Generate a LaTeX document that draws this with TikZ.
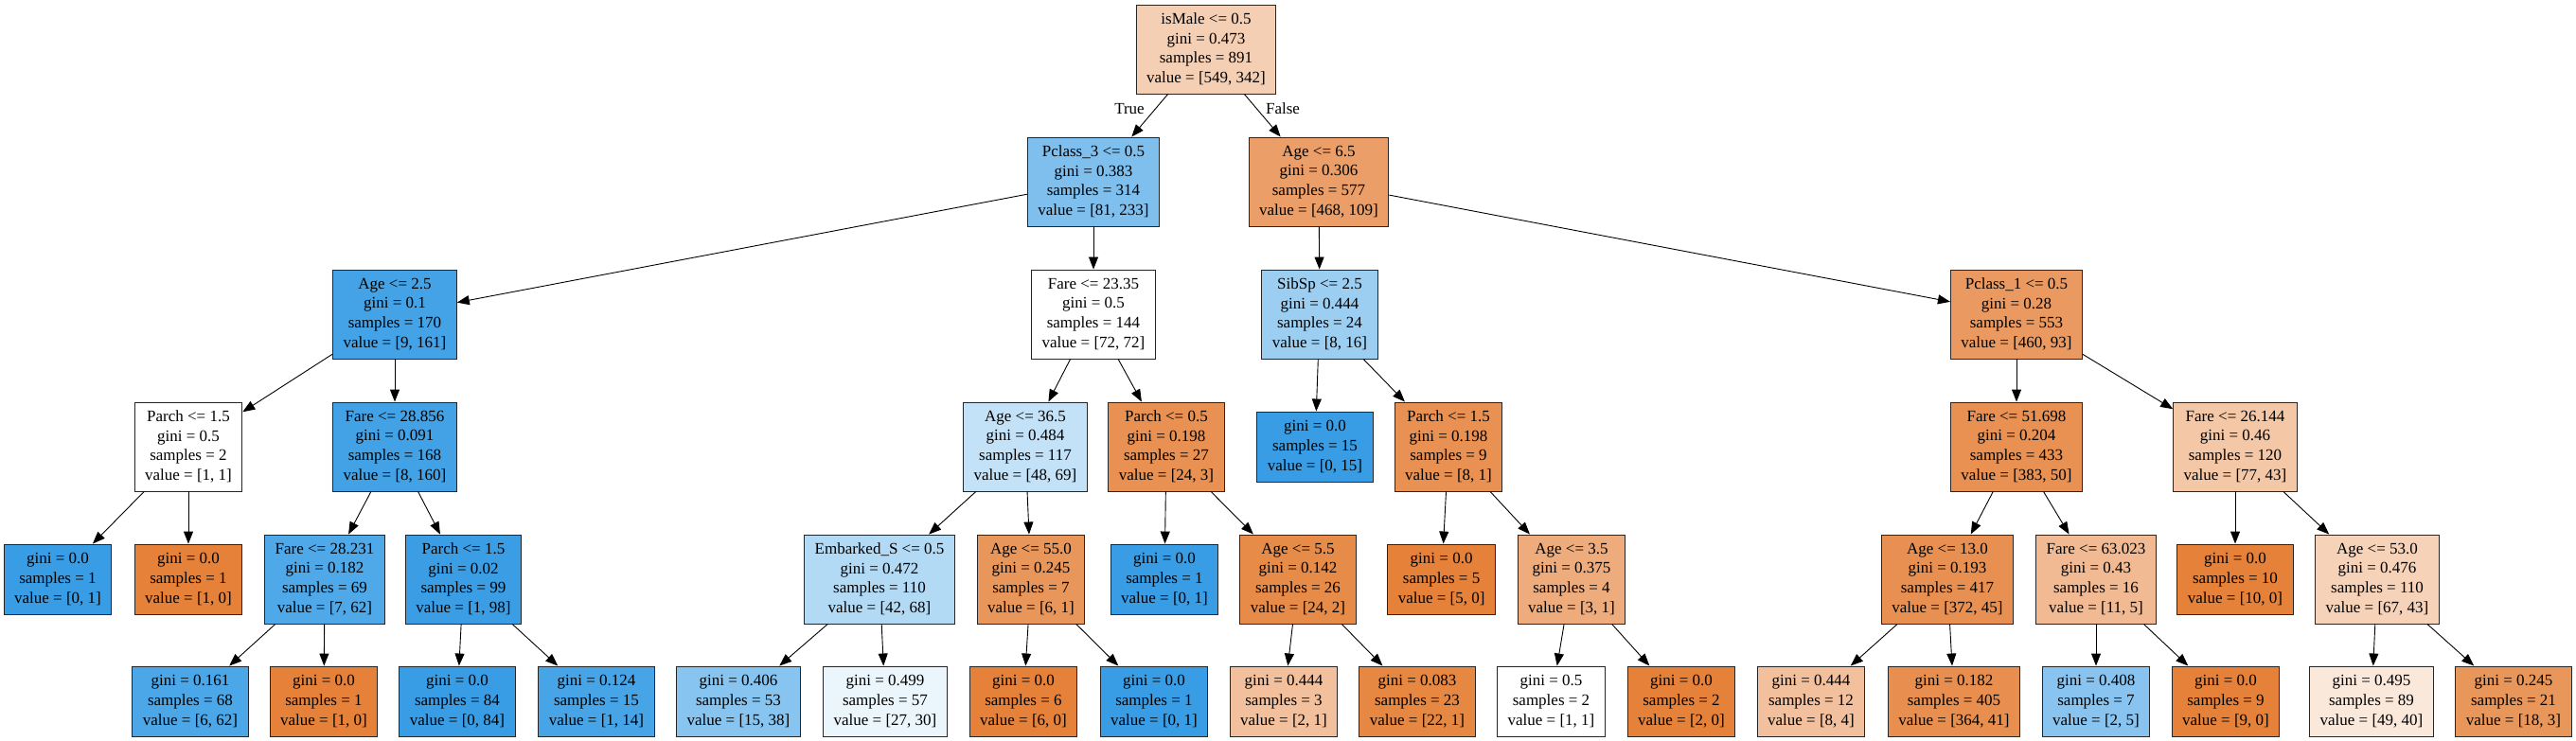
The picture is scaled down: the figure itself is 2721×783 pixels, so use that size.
\documentclass[tikz,border=0pt]{standalone}
\usepackage{fontspec}
\setmainfont{Liberation Serif}
\usetikzlibrary{arrows.meta}
\definecolor{orng}{RGB}{229,129,57}
\definecolor{blu}{RGB}{57,157,229}
\newcommand{\dtxt}[4]{#1\\gini = #2\\samples = #3\\value = [#4]}
\newcommand{\ltxt}[3]{gini = #1\\samples = #2\\value = [#3]}
\tikzset{
  tn/.style={draw=black!85, line width=0.9pt, rectangle, align=center, inner xsep=11pt, inner ysep=2pt, minimum height=94pt, font=\fontsize{17}{20.7}\selectfont},
  lf/.style={tn, minimum height=74pt},
  ar/.style={-{Triangle[length=13pt,width=10pt]}, line width=0.9pt},
  elab/.style={font=\fontsize{17}{20.7}\selectfont, inner sep=0pt},
}
\begin{document}
\begin{tikzpicture}[x=1pt,y=-1pt]
\useasboundingbox (0,0) rectangle (2721,783);
% level 0
\node[tn, fill=orng!37.7!white] (n0) at (1274,52) {\dtxt{isMale <= 0.5}{0.473}{891}{549, 342}};
% level 1
\node[tn, fill=blu!65.2!white] (n1) at (1155,192) {\dtxt{Pclass\_3 <= 0.5}{0.383}{314}{81, 233}};
\node[tn, fill=orng!76.7!white] (n2) at (1393,192) {\dtxt{Age <= 6.5}{0.306}{577}{468, 109}};
% level 2
\node[tn, fill=blu!94.4!white] (n3) at (417,332) {\dtxt{Age <= 2.5}{0.1}{170}{9, 161}};
\node[tn, fill=white] (n4) at (1155,332) {\dtxt{Fare <= 23.35}{0.5}{144}{72, 72}};
\node[tn, fill=blu!50!white] (n5) at (1394,332) {\dtxt{SibSp <= 2.5}{0.444}{24}{8, 16}};
\node[tn, fill=orng!79.8!white] (n6) at (2130,332) {\dtxt{Pclass\_1 <= 0.5}{0.28}{553}{460, 93}};
% level 3
\node[tn, fill=white] (n7) at (199,472) {\dtxt{Parch <= 1.5}{0.5}{2}{1, 1}};
\node[tn, fill=blu!95!white] (n8) at (417,472) {\dtxt{Fare <= 28.856}{0.091}{168}{8, 160}};
\node[tn, fill=blu!30.4!white] (n9) at (1083,472) {\dtxt{Age <= 36.5}{0.484}{117}{48, 69}};
\node[tn, fill=orng!87.5!white] (n10) at (1232,472) {\dtxt{Parch <= 0.5}{0.198}{27}{24, 3}};
\node[lf, fill=blu] (n11) at (1389,472) {\ltxt{0.0}{15}{0, 15}};
\node[tn, fill=orng!87.5!white] (n12) at (1530,472) {\dtxt{Parch <= 1.5}{0.198}{9}{8, 1}};
\node[tn, fill=orng!86.9!white] (n13) at (2130,472) {\dtxt{Fare <= 51.698}{0.204}{433}{383, 50}};
\node[tn, fill=orng!44.2!white] (n14) at (2361,472) {\dtxt{Fare <= 26.144}{0.46}{120}{77, 43}};
% level 4
\node[lf, fill=blu] (n15) at (61,612) {\ltxt{0.0}{1}{0, 1}};
\node[lf, fill=orng] (n16) at (199,612) {\ltxt{0.0}{1}{1, 0}};
\node[tn, fill=blu!88.7!white] (n17) at (343,612) {\dtxt{Fare <= 28.231}{0.182}{69}{7, 62}};
\node[tn, fill=blu!99!white] (n18) at (489.5,612) {\dtxt{Parch <= 1.5}{0.02}{99}{1, 98}};
\node[tn, fill=blu!38.2!white] (n19) at (929,612) {\dtxt{Embarked\_S <= 0.5}{0.472}{110}{42, 68}};
\node[tn, fill=orng!83.3!white] (n20) at (1089,612) {\dtxt{Age <= 55.0}{0.245}{7}{6, 1}};
\node[lf, fill=blu] (n21) at (1230,612) {\ltxt{0.0}{1}{0, 1}};
\node[tn, fill=orng!91.7!white] (n22) at (1371,612) {\dtxt{Age <= 5.5}{0.142}{26}{24, 2}};
\node[lf, fill=orng] (n23) at (1522.6,612) {\ltxt{0.0}{5}{5, 0}};
\node[tn, fill=orng!66.7!white] (n24) at (1660,612) {\dtxt{Age <= 3.5}{0.375}{4}{3, 1}};
\node[tn, fill=orng!87.9!white] (n25) at (2057,612) {\dtxt{Age <= 13.0}{0.193}{417}{372, 45}};
\node[tn, fill=orng!54.5!white] (n26) at (2214,612) {\dtxt{Fare <= 63.023}{0.43}{16}{11, 5}};
\node[lf, fill=orng] (n27) at (2361,612) {\ltxt{0.0}{10}{10, 0}};
\node[tn, fill=orng!35.8!white] (n28) at (2511,612) {\dtxt{Age <= 53.0}{0.476}{110}{67, 43}};
% level 5
\node[lf, fill=blu!90.3!white] (n29) at (201,741) {\ltxt{0.161}{68}{6, 62}};
\node[lf, fill=orng] (n30) at (342,741) {\ltxt{0.0}{1}{1, 0}};
\node[lf, fill=blu] (n31) at (483,741) {\ltxt{0.0}{84}{0, 84}};
\node[lf, fill=blu!92.9!white] (n32) at (630,741) {\ltxt{0.124}{15}{1, 14}};
\node[lf, fill=blu!60.5!white] (n33) at (780,741) {\ltxt{0.406}{53}{15, 38}};
\node[lf, fill=blu!10!white] (n34) at (935,741) {\ltxt{0.499}{57}{27, 30}};
\node[lf, fill=orng] (n35) at (1081,741) {\ltxt{0.0}{6}{6, 0}};
\node[lf, fill=blu] (n36) at (1219,741) {\ltxt{0.0}{1}{0, 1}};
\node[lf, fill=orng!50!white] (n37) at (1356,741) {\ltxt{0.444}{3}{2, 1}};
\node[lf, fill=orng!95.5!white] (n38) at (1497,741) {\ltxt{0.083}{23}{22, 1}};
\node[lf, fill=white] (n39) at (1638.5,741) {\ltxt{0.5}{2}{1, 1}};
\node[lf, fill=orng] (n40) at (1776,741) {\ltxt{0.0}{2}{2, 0}};
\node[lf, fill=orng!50!white] (n41) at (1913,741) {\ltxt{0.444}{12}{8, 4}};
\node[lf, fill=orng!88.7!white] (n42) at (2064,741) {\ltxt{0.182}{405}{364, 41}};
\node[lf, fill=blu!60!white] (n43) at (2214,741) {\ltxt{0.408}{7}{2, 5}};
\node[lf, fill=orng] (n44) at (2351,741) {\ltxt{0.0}{9}{9, 0}};
\node[lf, fill=orng!18.4!white] (n45) at (2505,741) {\ltxt{0.495}{89}{49, 40}};
\node[lf, fill=orng!83.3!white] (n46) at (2655,741) {\ltxt{0.245}{21}{18, 3}};
% edges
\draw[ar] (n0) -- (n1);
\draw[ar] (n0) -- (n2);
\draw[ar] (n1) -- (n3);
\draw[ar] (n1) -- (n4);
\draw[ar] (n2) -- (n5);
\draw[ar] (n2) -- (n6);
\draw[ar] (n3) -- (n7);
\draw[ar] (n3) -- (n8);
\draw[ar] (n4) -- (n9);
\draw[ar] (n4) -- (n10);
\draw[ar] (n5) -- (n11);
\draw[ar] (n5) -- (n12);
\draw[ar] (n6) -- (n13);
\draw[ar] (n6) -- (n14);
\draw[ar] (n7) -- (n15);
\draw[ar] (n7) -- (n16);
\draw[ar] (n8) -- (n17);
\draw[ar] (n8) -- (n18);
\draw[ar] (n9) -- (n19);
\draw[ar] (n9) -- (n20);
\draw[ar] (n10) -- (n21);
\draw[ar] (n10) -- (n22);
\draw[ar] (n12) -- (n23);
\draw[ar] (n12) -- (n24);
\draw[ar] (n13) -- (n25);
\draw[ar] (n13) -- (n26);
\draw[ar] (n14) -- (n27);
\draw[ar] (n14) -- (n28);
\draw[ar] (n17) -- (n29);
\draw[ar] (n17) -- (n30);
\draw[ar] (n18) -- (n31);
\draw[ar] (n18) -- (n32);
\draw[ar] (n19) -- (n33);
\draw[ar] (n19) -- (n34);
\draw[ar] (n20) -- (n35);
\draw[ar] (n20) -- (n36);
\draw[ar] (n22) -- (n37);
\draw[ar] (n22) -- (n38);
\draw[ar] (n24) -- (n39);
\draw[ar] (n24) -- (n40);
\draw[ar] (n25) -- (n41);
\draw[ar] (n25) -- (n42);
\draw[ar] (n26) -- (n43);
\draw[ar] (n26) -- (n44);
\draw[ar] (n28) -- (n45);
\draw[ar] (n28) -- (n46);
% edge labels
\node[elab] (lt) at (1193,115) {True};
\node[elab] (lf) at (1355,115) {False};
\end{tikzpicture}
\end{document}
